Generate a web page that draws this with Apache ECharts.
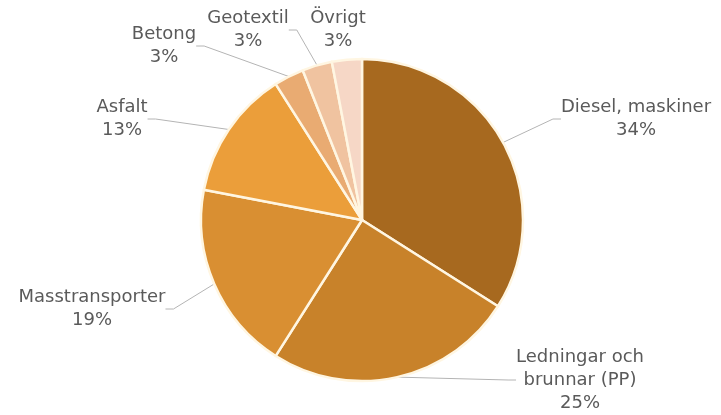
<!DOCTYPE html>
<html><head><meta charset="utf-8">
<script src="https://cdn.jsdelivr.net/npm/echarts@6/dist/echarts.min.js"></script>
<style>html,body{margin:0;padding:0;background:#fff}#c{width:721px;height:415px}</style>
</head><body><div id="c"></div>
<script>
const categories = ["Diesel, maskiner", "Ledningar och\nbrunnar (PP)", "Masstransporter", "Asfalt", "Betong", "Geotextil", "Övrigt"];
const values = [34, 25, 19, 13, 3, 3, 3];
const colors = ["#A7691F", "#C8822A", "#D98F32", "#EB9E3A", "#E9AB72", "#F0C3A0", "#F6D7C6"];
const showLine = [true, true, true, true, true, true, false];
const labelPos = [[636, 119], [580, 380], [92, 309], [122, 119], [164, 46], [248, 30], [338, 30]];

const chart = echarts.init(document.getElementById('c'), null, {renderer: 'canvas'});
chart.setOption({
  animation: false,
  series: [{
    type: 'pie',
    center: [362, 220],
    radius: [0, 161],
    startAngle: 90,
    clockwise: true,
    avoidLabelOverlap: false,
    data: categories.map((n, i) => ({name: n, value: values[i], itemStyle: {color: colors[i]}, labelLine: {show: showLine[i]}})),
    itemStyle: {borderColor: '#FFF6E2', borderWidth: 2.5},
    label: {
      formatter: p => p.name + '\n' + p.value + '%',
      fontFamily: '"DejaVu Sans", Verdana, sans-serif',
      fontSize: 18,
      lineHeight: 23,
      color: '#5A5A5A',
      align: 'center'
    },
    labelLine: {show: true, length: 20, length2: 8, lineStyle: {color: '#B4B4B4', width: 1}},
    labelLayout: function (params) {
      const p = labelPos[params.dataIndex];
      return {x: p[0], y: p[1], align: 'center', verticalAlign: 'middle'};
    },
    emphasis: {disabled: true}
  }]
});
</script></body></html>
